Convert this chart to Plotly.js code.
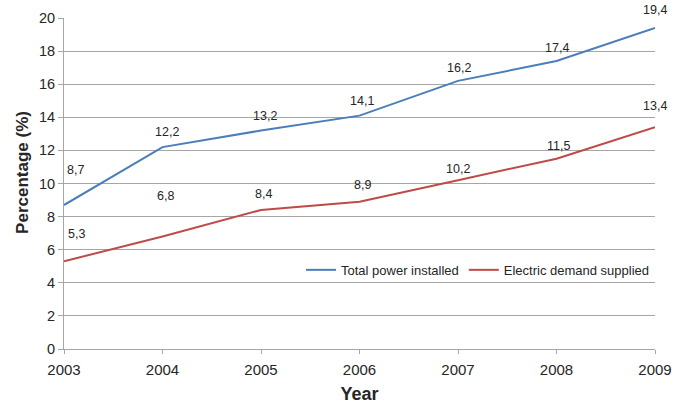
<!DOCTYPE html>
<html>
<head>
<meta charset="utf-8">
<script src="https://cdn.plot.ly/plotly-3.0.1.min.js"></script>
<style>html,body{margin:0;padding:0;background:#fff;}#chart{width:690px;height:408px;}</style>
</head>
<body>
<div id="chart"></div>
<script>
const years = [2003, 2004, 2005, 2006, 2007, 2008, 2009];
const totalPower = [8.7, 12.2, 13.2, 14.1, 16.2, 17.4, 19.4];
const demandSupplied = [5.3, 6.8, 8.4, 8.9, 10.2, 11.5, 13.4];
const seriesNames = ["Total power installed", "Electric demand supplied"];
const yTicks = [0, 2, 4, 6, 8, 10, 12, 14, 16, 18, 20];
const xTitle = 'Year';
const yTitle = 'Percentage (%)';

// label offsets (pixels) for data labels
const totalShiftX = [11, 4, 4, 2, 1, 0, 0];
const totalShiftY = [35, 15, 15, 15, 13, 13, 18];
const demandShiftX = [12, 3, 2, 3, 0, 2, 0];
const demandShiftY = [27, 40, 16, 17, 11, 13, 21];

const fmt = v => v.toFixed(1).replace('.', ',');

const blue = '#4a7ebb';
const red = '#be4b48';
const txt = '#262626';
const fam = 'Liberation Sans, Arial, sans-serif';

const traces = [
  {x: years, y: totalPower, name: seriesNames[0], mode: 'lines', line: {color: blue, width: 2}},
  {x: years, y: demandSupplied, name: seriesNames[1], mode: 'lines', line: {color: red, width: 2}}
];

const annotations = [];
years.forEach((yr, i) => {
  annotations.push({x: yr, y: totalPower[i], text: fmt(totalPower[i]), showarrow: false,
    xshift: totalShiftX[i], yshift: totalShiftY[i], font: {family: fam, size: 12.5, color: txt}});
  annotations.push({x: yr, y: demandSupplied[i], text: fmt(demandSupplied[i]), showarrow: false,
    xshift: demandShiftX[i], yshift: demandShiftY[i], font: {family: fam, size: 12.5, color: txt}});
});
annotations.push({xref: 'paper', yref: 'paper', x: -0.0694, y: 0.535, text: '<b>' + yTitle + '</b>',
  textangle: -90, showarrow: false, xanchor: 'center', yanchor: 'middle',
  font: {family: fam, size: 17, color: txt}});

const layout = {
  width: 690, height: 408,
  margin: {l: 64, r: 35, t: 18, b: 59},
  paper_bgcolor: '#fff', plot_bgcolor: '#fff',
  font: {family: fam, color: txt},
  showlegend: true,
  legend: {orientation: 'h', x: 1.0, xanchor: 'right', y: 0.239, yanchor: 'middle',
    font: {size: 13, color: txt}, bgcolor: 'rgba(255,255,255,0)', traceorder: 'normal'},
  xaxis: {
    range: [2003, 2009], tickmode: 'array', tickvals: years, ticktext: years.map(String),
    showgrid: false, zeroline: false, showline: true, linecolor: '#a6a6a6', linewidth: 1,
    ticks: 'outside', ticklen: 4, tickcolor: '#a6a6a6', tickfont: {size: 15, color: txt},
    ticklabelstandoff: 3,
    title: {text: xTitle, font: {size: 18, color: txt, family: fam, weight: 'bold'}, standoff: 10}
  },
  yaxis: {
    range: [0, 20], tickmode: 'array', tickvals: yTicks,
    showgrid: true, gridcolor: '#a6a6a6', gridwidth: 1, zeroline: false,
    showline: true, linecolor: '#a6a6a6', linewidth: 1,
    ticks: 'outside', ticklen: 5, tickcolor: '#a6a6a6', tickfont: {size: 14.5, color: txt}
  },
  annotations: annotations
};

Plotly.newPlot('chart', traces, layout, {displayModeBar: false, staticPlot: true});
</script>
</body>
</html>
